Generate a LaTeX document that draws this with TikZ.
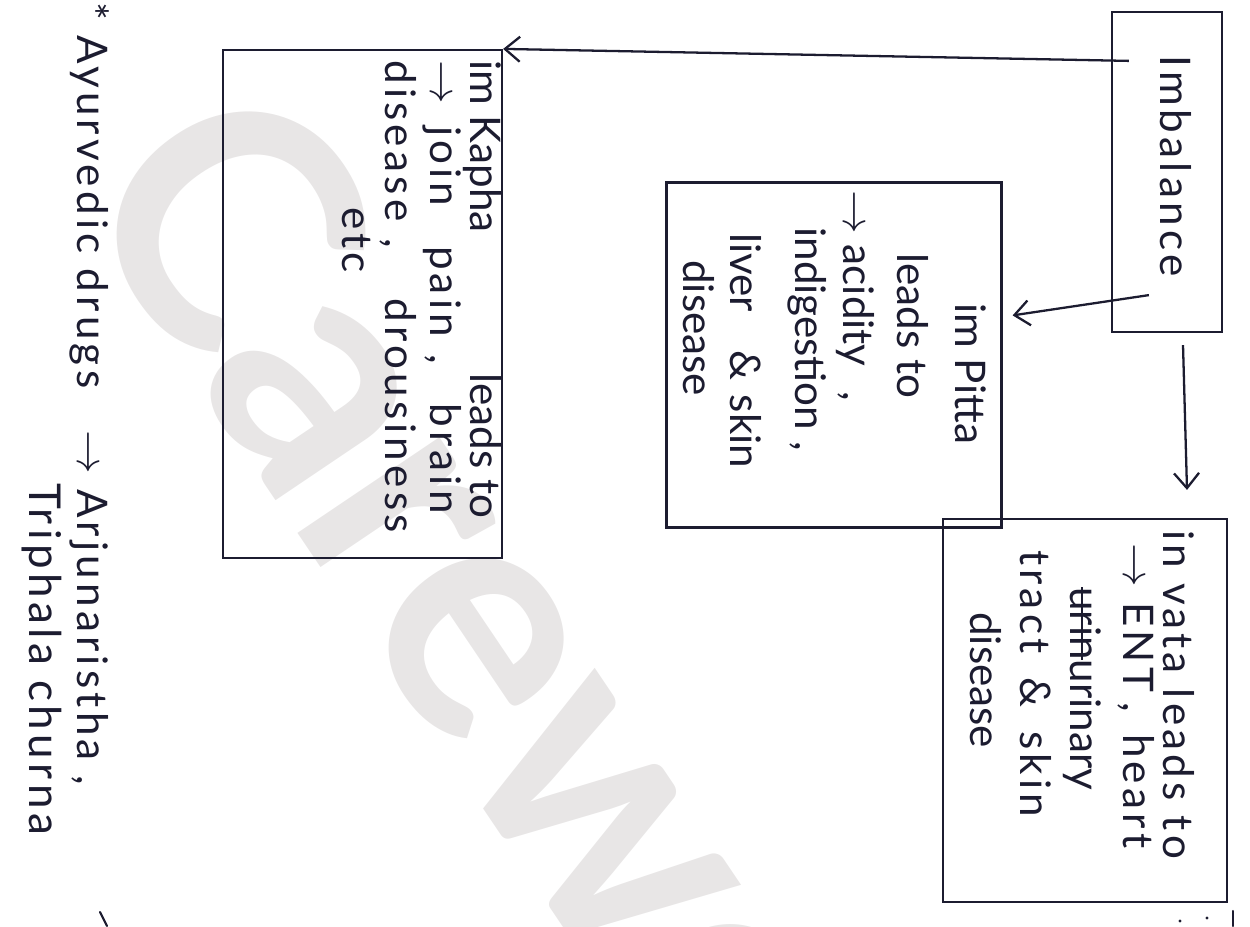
\documentclass[tikz,border=0pt]{standalone}
\usepackage{fontspec}
\setmainfont{Lato}
\newfontfamily\hwA{Lato}[LetterSpace=10]
\newfontfamily\hwB{Lato}
\usetikzlibrary{arrows.meta,calc}
\definecolor{ink}{RGB}{28,28,48}
\definecolor{wm}{RGB}{232,230,230}
\newcommand\mystrike[1]{\setbox0\hbox{#1}\rlap{\raisebox{0.25em}{\rule{\wd0}{1.2pt}}}\box0}
\begin{document}
\begin{tikzpicture}[x=0.02cm,y=-0.02cm,
  box/.style={draw=ink, line width=1.3pt, inner sep=0pt},
  hw/.style={rotate=-90, anchor=base west, inner sep=0pt, text=ink, font=\fontsize{24}{28}\hwA},
  hwn/.style={hw, font=\fontsize{24}{28}\hwB},
  conn/.style={draw=ink, line width=1.3pt, -{Straight Barb[length=3mm,width=5mm,line width=1.3pt]}},
  footmark/.style={draw=ink, line width=1.2pt, line cap=round}]
\useasboundingbox (0,0) rectangle (1250,926);
% watermark
\begin{scope}
\clip (0,0) rectangle (1250,926);
\node[rotate=-56, text=wm, font=\fontsize{190}{190}\selectfont\bfseries] (wmk) at (532,661) {Carewell};
\end{scope}
% boxes
\node[box, minimum width=2.2cm, minimum height=6.4cm] (imb) at (1167,172) {};
\node[box, minimum width=6.7cm, minimum height=6.9cm] (pitta) at (834,355) {};
\node[box, minimum width=5.68cm, minimum height=7.66cm] (vata) at (1085,710.5) {};
\node[box, minimum width=5.58cm, minimum height=10.16cm] (kapha) at (362.5,304) {};
% imbalance text
\node[hw] (imbt) at (1160,55) {Imbalance};
% vata text
\node[hw] (v1) at (1163,530) {in vata leads to};
\node[hw] (v2) at (1123,543) {$\rightarrow$ ENT\hspace{6pt}, \hspace{4pt}heart};
\node[hwn] (v3) at (1070,587) {\mystrike{urin} urinary};
\node[hw] (v4) at (1020,550) {tract\hspace{5pt} \&\hspace{5pt} skin};
\node[hwn] (v5) at (970,612) {disease};
% pitta text
\node[hwn] (p1) at (955,303) {im Pitta};
\node[hwn] (p2) at (897,253) {leads to};
\node[hwn] (p3) at (843,190) {$\rightarrow$ acidity\hspace{14pt},};
\node[hwn] (p4) at (795,227) {indigestion ,};
\node[hwn] (p5) at (730,233) {liver\hspace{22pt}\&\hspace{8pt}skin};
\node[hwn] (p6) at (683,260) {disease};
% kapha text
\node[hwn] (k1) at (470,60) {im Kapha};
\node[hwn] (k1b) at (470,373) {leads to};
\node[hw] (k2) at (430,60) {$\rightarrow$\hspace{4pt} join\hspace{14pt} pain\hspace{10pt}, \hspace{14pt}brain};
\node[hw] (k3) at (385,60) {disease\hspace{10pt}, \hspace{20pt}drousiness};
\node[hw] (k4) at (342,207) {etc};
% bottom text
\node[hw] (b1) at (77,2) {* Ayurvedic drugs};
\node[hw] (b2) at (77,430) {$\rightarrow$ Arjunaristha ,};
\node[hw, font=\fontsize{25}{28}\hwA] (b3) at (30,483) {Triphala churna};
% connectors
\draw[conn] ($(imb.north west)+(18,50)$) -- (kapha.north east);
\draw[conn] ($(imb.south west)+(38,-38)$) -- ($(pitta.north east)+(10,134)$);
\draw[conn] ($(imb.south)+(16,12)$) -- ($(vata.north)+(102,-28)$);
% small marks at the page foot
\draw[footmark] (100,912) -- (107,926);
\fill[ink] (1180,921) circle (1.6);
\fill[ink] (1207,918) circle (1.6);
\draw[footmark] (1233,911) -- (1233,926);
\end{tikzpicture}
\end{document}
